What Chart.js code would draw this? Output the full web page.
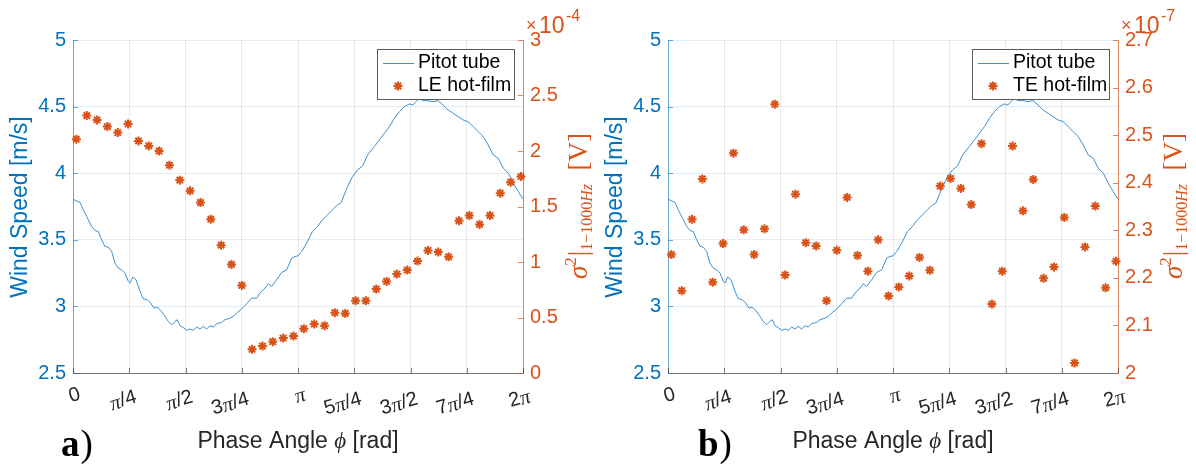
<!DOCTYPE html>
<html><head><meta charset="utf-8">
<script src="https://cdn.jsdelivr.net/npm/chart.js@4.4.1/dist/chart.umd.min.js"></script>
<style>
html,body{margin:0;padding:0;background:#fff;width:1196px;height:466px;overflow:hidden}
.p{position:absolute;top:0;width:598px;height:466px}
</style></head><body>
<div class="p" style="left:0px"><canvas id="c1" width="598" height="466"></canvas></div>
<div class="p" style="left:595px"><canvas id="c2" width="598" height="466"></canvas></div>
<script>
// ---------- DATA ----------
// Pitot tube wind speed [m/s] vs phase angle [rad]
const pitotPhase = [0,0.098,0.144,0.191,0.261,0.307,0.354,0.400,0.447,0.493,
  0.540,0.586,0.633,0.680,0.726,0.773,0.796,0.833,0.880,0.936,
  0.982,1.038,1.084,1.131,1.178,1.224,1.285,1.331,1.378,1.424,
  1.457,1.494,1.550,1.587,1.634,1.680,1.727,1.773,1.820,1.866,
  1.913,1.959,2.006,2.076,2.122,2.192,2.239,2.285,2.355,2.425,
  2.495,2.565,2.611,2.681,2.727,2.774,2.844,2.914,2.984,3.053,
  3.100,3.146,3.193,3.263,
  3.343,3.413,3.483,3.553,3.623,3.693,3.740,3.787,3.834,3.904,
  3.974,4.044,4.114,4.208,4.278,4.348,4.418,4.488,4.558,4.628,
  4.698,4.745,4.792,4.839,4.885,4.955,5.026,5.096,5.166,5.236,
  5.306,5.376,5.446,5.516,5.587,5.657,5.727,5.797,5.867,5.937,
  6.007,6.078,6.148,6.218,6.283];
const pitotSpeed = [3.805,3.780,3.725,3.675,3.600,3.570,3.562,3.500,3.450,3.445,
  3.412,3.325,3.287,3.275,3.250,3.187,3.175,3.220,3.200,3.112,
  3.057,3.050,3.025,2.987,2.995,2.970,2.925,2.887,2.862,2.887,
  2.900,2.855,2.837,2.820,2.830,2.820,2.845,2.830,2.850,2.830,
  2.855,2.845,2.870,2.880,2.900,2.912,2.925,2.950,2.980,3.020,
  3.062,3.062,3.100,3.137,3.170,3.150,3.200,3.255,3.275,3.362,
  3.375,3.380,3.412,3.475,
  3.5625,3.600,3.650,3.6875,3.725,3.7625,3.775,3.8375,3.900,3.975,
  4.025,4.055,4.1375,4.200,4.250,4.300,4.350,4.4125,4.4625,4.500,
  4.520,4.5125,4.5375,4.5625,4.545,4.545,4.5375,4.545,4.5125,4.475,
  4.450,4.425,4.400,4.3875,4.350,4.3125,4.275,4.2125,4.1375,4.1125,
  4.0375,4.000,3.925,3.8625,3.805];
// hot-film phase bins [rad]
const filmPhase = [0.047,0.192,0.336,0.480,0.625,0.769,0.914,1.058,1.202,1.347,
  1.491,1.635,1.780,1.924,2.068,2.213,2.357,2.501,2.646,2.790,
  2.935,3.079,3.223,3.368,3.512,3.656,3.801,3.945,4.089,4.234,
  4.378,4.522,4.667,4.811,4.956,5.100,5.244,5.389,5.533,5.677,
  5.822,5.966,6.110,6.255];
// LE hot-film variance, units of 1e-4 V
const leVariance = [2.106,2.319,2.28,2.22,2.166,2.244,2.091,2.046,2.0,1.872,
  1.737,1.641,1.536,1.386,1.152,0.978,0.789,0.213,0.243,0.282,
  0.315,0.333,0.399,0.441,0.426,0.543,0.537,0.651,0.651,0.756,
  0.825,0.891,0.927,1.008,1.104,1.089,1.047,1.371,1.419,1.338,
  1.419,1.62,1.719,1.77];
// TE hot-film variance, units of 1e-7 V
const teVariance = [2.249,2.173,2.323,2.408,2.191,2.272,2.462,2.301,2.249,2.303,
  2.565,2.206,2.376,2.274,2.267,2.152,2.258,2.369,2.247,2.214,
  2.28,2.162,2.181,2.204,2.243,2.216,2.393,2.409,2.388,2.354,
  2.482,2.145,2.214,2.477,2.341,2.407,2.199,2.223,2.327,2.021,
  2.265,2.351,2.179,2.235];
// ticks
const xTickValues = [0, Math.PI/4, 2*Math.PI/4, 3*Math.PI/4, Math.PI, 5*Math.PI/4, 6*Math.PI/4, 7*Math.PI/4, 2*Math.PI];
const xTickLabels = ['0','π/4','π/2','3π/4','π','5π/4','3π/2','7π/4','2π'];
const windTicks = [2.5,3,3.5,4,4.5,5];
const windTickLabels = ['2.5','3','3.5','4','4.5','5'];
const leTicks = [0,0.5,1,1.5,2,2.5,3];
const leTickLabels = ['0','0.5','1','1.5','2','2.5','3'];
const teTicks = [2.0,2.1,2.2,2.3,2.4,2.5,2.6,2.7];
const teTickLabels = ['2','2.1','2.2','2.3','2.4','2.5','2.6','2.7'];

// ---------- STYLE ----------
const BLUE = '#0072BD', ORANGE = '#D95319', DARK = '#262626';
const SANS = '"Liberation Sans", Arial, Helvetica, sans-serif';
const SERIF = '"Liberation Serif", "DejaVu Serif", serif';

function star(ctx, x, y, r) {
  ctx.beginPath();
  for (let k = 0; k < 4; k++) {
    const a = k * Math.PI / 4;
    ctx.moveTo(x - r*Math.cos(a), y - r*Math.sin(a));
    ctx.lineTo(x + r*Math.cos(a), y + r*Math.sin(a));
  }
  ctx.stroke();
}

function labelParts(lab) {
  return lab.split(/(π)/).filter(s => s.length).map(s =>
    ({ t: s, f: s === 'π' ? 'italic 21px ' + SERIF : '20px ' + SANS }));
}

const decor = {
  id: 'decor',
  afterDraw(chart, args, o) {
    const ctx = chart.ctx, ca = chart.chartArea;
    const xs = chart.scales.x, ys = chart.scales.y, yr = chart.scales.y1;
    ctx.save();
    // inward tick marks
    ctx.lineWidth = 1;
    ctx.strokeStyle = 'rgba(38,38,38,0.6)';
    xTickValues.forEach(v => { const px = Math.round(xs.getPixelForValue(v)) + 0.5;
      ctx.beginPath(); ctx.moveTo(px, ca.bottom); ctx.lineTo(px, ca.bottom - 5); ctx.stroke(); });
    ctx.strokeStyle = 'rgba(0,114,189,0.6)';
    windTicks.forEach(v => { const py = Math.round(ys.getPixelForValue(v)) + 0.5;
      ctx.beginPath(); ctx.moveTo(ca.left, py); ctx.lineTo(ca.left + 5, py); ctx.stroke(); });
    ctx.strokeStyle = 'rgba(217,83,25,0.7)';
    o.rightTicks.forEach(v => { const py = Math.round(yr.getPixelForValue(v)) + 0.5;
      ctx.beginPath(); ctx.moveTo(ca.right, py); ctx.lineTo(ca.right - 5, py); ctx.stroke(); });

    // x tick labels (rotated)
    ctx.fillStyle = DARK; ctx.textAlign = 'left'; ctx.textBaseline = 'middle';
    xTickLabels.forEach((lab, i) => {
      const parts = labelParts(lab);
      let w = 0; parts.forEach(p => { ctx.font = p.f; p.w = ctx.measureText(p.t).width; w += p.w; });
      const cx = xs.getPixelForValue(xTickValues[i]) + 7 - 0.48 * w;
      const cy = 392 + 0.31 * w;
      ctx.save(); ctx.translate(cx, cy); ctx.rotate(-16 * Math.PI / 180);
      let px = -w / 2;
      parts.forEach(p => { ctx.font = p.f; ctx.fillText(p.t, px, p.t === 'π' ? 1 : 0); px += p.w; });
      ctx.restore();
    });

    // left axis title
    ctx.save(); ctx.translate(21, 207); ctx.rotate(-Math.PI / 2);
    ctx.font = '23px ' + SANS; ctx.fillStyle = BLUE;
    ctx.textAlign = 'center'; ctx.textBaseline = 'middle';
    ctx.fillText('Wind Speed [m/s]', 0, 0); ctx.restore();

    // x axis title
    const xt = [{t:'Phase Angle ', f:'23px ' + SANS}, {t:'ϕ', f:'italic 23px ' + SERIF}, {t:' [rad]', f:'23px ' + SANS}];
    let tot = 0; xt.forEach(p => { ctx.font = p.f; p.w = ctx.measureText(p.t).width; tot += p.w; });
    let xx = (ca.left + ca.right) / 2 - tot / 2;
    ctx.fillStyle = DARK; ctx.textAlign = 'left'; ctx.textBaseline = 'alphabetic';
    xt.forEach(p => { ctx.font = p.f; ctx.fillText(p.t, xx, 448); xx += p.w; });

    // right axis title (rotated)
    const rt = [
      {t:'σ', f:'italic 27px ' + SERIF, dy:0},
      {t:'2', f:'17px ' + SERIF, dy:-11},
      {t:'|', f:'27px ' + SERIF, dy:0, pre:1},
      {t:'1−1000', f:'16px ' + SERIF, dy:5},
      {t:'Hz', f:'italic 16px ' + SERIF, dy:5},
      {t:'  [V]', f:'27px ' + SERIF, dy:0}
    ];
    tot = 0; rt.forEach(p => { ctx.font = p.f; p.w = ctx.measureText(p.t).width + (p.pre || 0); tot += p.w; });
    ctx.save(); ctx.translate(ca.right + 56, 206); ctx.rotate(-Math.PI / 2);
    ctx.fillStyle = ORANGE; ctx.textAlign = 'left'; ctx.textBaseline = 'alphabetic';
    xx = -tot / 2;
    rt.forEach(p => { ctx.font = p.f; ctx.fillText(p.t, xx + (p.pre || 0), 8 + p.dy); xx += p.w; });
    ctx.restore();

    // exponent
    ctx.fillStyle = ORANGE; ctx.textAlign = 'left'; ctx.textBaseline = 'alphabetic';
    ctx.font = '18px ' + SANS; ctx.fillText('×', ca.right + 3, 31);
    ctx.font = '23px ' + SANS; ctx.fillText('10', ca.right + 16, 33);
    ctx.font = '16px ' + SANS; ctx.fillText(o.exponent, ca.right + 43, 21);

    // legend
    const lx = 377.5, ly = 49.5, lw = 137, lh = 50;
    ctx.fillStyle = '#fff'; ctx.fillRect(lx, ly, lw, lh);
    ctx.strokeStyle = '#5a5a5a'; ctx.lineWidth = 1; ctx.strokeRect(lx, ly, lw, lh);
    ctx.strokeStyle = '#3d8fd1'; ctx.beginPath(); ctx.moveTo(383, 63.5); ctx.lineTo(414, 63.5); ctx.stroke();
    ctx.strokeStyle = ORANGE; ctx.lineWidth = 2; star(ctx, 398, 86, 4.5);
    ctx.fillStyle = '#000'; ctx.font = '19.5px ' + SANS; ctx.textBaseline = 'middle';
    ctx.fillText('Pitot tube', 418, 63);
    ctx.fillText(o.filmLabel, 418, 86);

    // panel label
    ctx.textBaseline = 'alphabetic'; ctx.fillStyle = '#000';
    ctx.font = 'bold 37px ' + SERIF;
    const pw = ctx.measureText(o.panel).width;
    ctx.fillText(o.panel, o.panelX, 456);
    ctx.font = '37px ' + SERIF;
    ctx.fillText(')', o.panelX + pw + 1, 456);
    ctx.restore();
  }
};

function makePanel(id, film, rMin, rMax, rTicks, rLabels, opts) {
  const line = pitotPhase.map((p, i) => ({x: p, y: pitotSpeed[i]}));
  const pts = filmPhase.map((p, i) => ({x: p, y: film[i]}));
  return new Chart(document.getElementById(id), {
    type: 'scatter',
    data: { datasets: [
      { data: line, yAxisID: 'y', showLine: true, borderColor: '#3d8fd1', borderWidth: 1,
        pointRadius: 0, tension: 0, order: 2 },
      { data: pts, yAxisID: 'y1', showLine: false, pointStyle: 'star', pointRadius: 4.5,
        borderWidth: 2, borderColor: ORANGE, backgroundColor: ORANGE, order: 1, clip: false }
    ]},
    options: {
      responsive: false, animation: false, devicePixelRatio: 1,
      layout: { padding: { top: 40, left: 0, right: 0, bottom: 0 } },
      plugins: { legend: { display: false }, tooltip: { enabled: false },
        decor: Object.assign({ rightTicks: rTicks }, opts) },
      scales: {
        x: { type: 'linear', min: 0, max: 2 * Math.PI,
          afterBuildTicks: s => { s.ticks = xTickValues.map(v => ({ value: v })); },
          ticks: { display: false, autoSkip: false },
          grid: { color: 'rgba(38,38,38,0.10)', drawTicks: false },
          border: { display: true, color: 'rgba(38,38,38,0.6)', width: 1 },
          afterFit: s => { s.height = 93; } },
        y: { type: 'linear', position: 'left', min: 2.5, max: 5,
          afterBuildTicks: s => { s.ticks = windTicks.map(v => ({ value: v })); },
          ticks: { autoSkip: false, color: BLUE, padding: 7,
            font: { family: SANS, size: 20 },
            callback: (v, i) => windTickLabels[i] },
          grid: { color: 'rgba(0,114,189,0.12)', drawTicks: false },
          border: { display: true, color: 'rgba(0,114,189,0.55)', width: 1 },
          afterFit: s => { s.width = 73; } },
        y1: { type: 'linear', position: 'right', min: rMin, max: rMax,
          afterBuildTicks: s => { s.ticks = rTicks.map(v => ({ value: v })); },
          ticks: { autoSkip: false, color: ORANGE, padding: 7,
            font: { family: SANS, size: 20 },
            callback: (v, i) => rLabels[i] },
          grid: { drawOnChartArea: false, drawTicks: false },
          border: { display: true, color: 'rgba(217,83,25,0.65)', width: 1 },
          afterFit: s => { s.width = 75; } }
      }
    },
    plugins: [decor]
  });
}

makePanel('c1', leVariance, 0, 3, leTicks, leTickLabels,
  { exponent: '-4', filmLabel: 'LE hot-film', panel: 'a', panelX: 61 });
makePanel('c2', teVariance, 2.0, 2.7, teTicks, teTickLabels,
  { exponent: '-7', filmLabel: 'TE hot-film', panel: 'b', panelX: 103 });
</script>
</body></html>
